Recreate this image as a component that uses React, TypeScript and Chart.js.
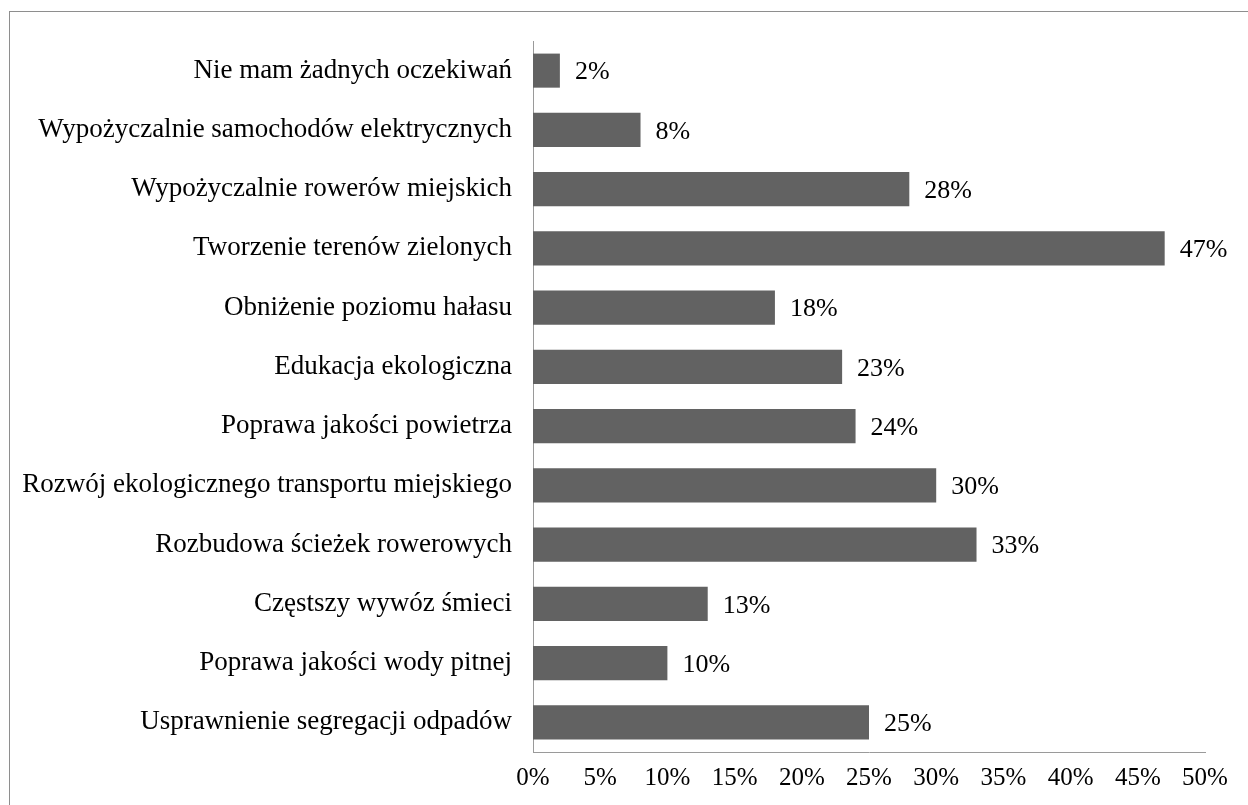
import React, { useEffect, useRef } from "react";
import { Chart, registerables } from "chart.js";

Chart.register(...registerables);

const categories: string[] = [
  "Nie mam żadnych oczekiwań",
  "Wypożyczalnie samochodów elektrycznych",
  "Wypożyczalnie rowerów miejskich",
  "Tworzenie terenów zielonych",
  "Obniżenie poziomu hałasu",
  "Edukacja ekologiczna",
  "Poprawa jakości powietrza",
  "Rozwój ekologicznego transportu miejskiego",
  "Rozbudowa ścieżek rowerowych",
  "Częstszy wywóz śmieci",
  "Poprawa jakości wody pitnej",
  "Usprawnienie segregacji odpadów",
];

const values: number[] = [2, 8, 28, 47, 18, 23, 24, 30, 33, 13, 10, 25];

const axisMin = 0;
const axisMax = 50;
const axisStep = 5;

const FONT = "'Liberation Serif', 'Times New Roman', serif";

const barLabels = {
  id: "barLabels",
  afterDatasetsDraw(chart: any) {
    const ctx = chart.ctx;
    const meta = chart.getDatasetMeta(0);
    ctx.save();
    ctx.font = `26px ${FONT}`;
    ctx.fillStyle = "#000000";
    ctx.textAlign = "left";
    ctx.textBaseline = "middle";
    meta.data.forEach((el: any, i: number) => {
      ctx.fillText(`${values[i]}%`, el.x + 15, el.y + 2);
    });
    ctx.restore();
  },
};

export default function App() {
  const ref = useRef<HTMLCanvasElement | null>(null);

  useEffect(() => {
    if (!ref.current) return;
    const chart = new Chart(ref.current, {
      type: "bar",
      data: {
        labels: categories,
        datasets: [
          {
            data: values,
            backgroundColor: "#626262",
            borderWidth: 0,
            barPercentage: 0.575,
            categoryPercentage: 1,
          },
        ],
      },
      options: {
        indexAxis: "y",
        animation: false,
        responsive: false,
        maintainAspectRatio: false,
        layout: { padding: { top: 41, right: 43, bottom: 0, left: 0 } },
        plugins: {
          legend: { display: false },
          tooltip: { enabled: false },
        },
        scales: {
          x: {
            min: axisMin,
            max: axisMax,
            grid: { display: false, drawTicks: false },
            border: { display: true, color: "#9a9a9a", width: 1 },
            ticks: {
              stepSize: axisStep,
              padding: 11,
              color: "#000000",
              font: { family: FONT, size: 25 },
              callback: (v: any) => `${v}%`,
            },
            afterFit: (scale: any) => {
              scale.height = 53;
            },
          },
          y: {
            grid: { display: false, drawTicks: false },
            border: { display: true, color: "#9a9a9a", width: 1 },
            ticks: {
              padding: 21,
              color: "#000000",
              font: { family: FONT, size: 27 },
            },
            afterFit: (scale: any) => {
              scale.width = 533;
            },
          },
        },
      },
      plugins: [barLabels],
    });
    return () => chart.destroy();
  }, []);

  return (
    <>
      <canvas
        ref={ref}
        width={1248}
        height={805}
        style={{ position: "fixed", left: 0, top: 0, width: 1248, height: 805, display: "block" }}
      />
      <div
        style={{
          position: "fixed",
          left: 9,
          top: 11,
          width: 1239,
          height: 794,
          borderTop: "1px solid #8e8e8e",
          borderLeft: "1px solid #8e8e8e",
          boxSizing: "border-box",
          pointerEvents: "none",
        }}
      />
    </>
  );
}
